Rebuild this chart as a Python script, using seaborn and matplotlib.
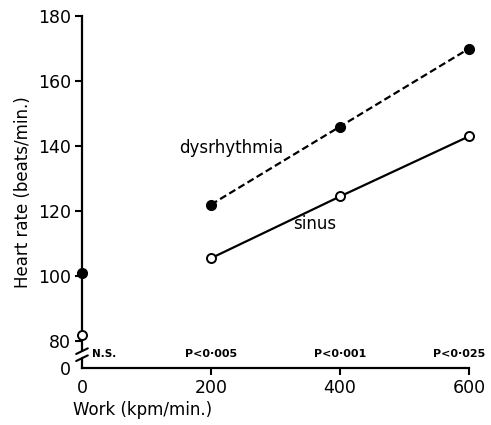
import matplotlib
matplotlib.use("Agg")
import matplotlib.pyplot as plt
import seaborn as sns
import pandas as pd

work = [0, 200, 400, 600]
dysrhythmia = [101, 122, 146, 170]
sinus = [82, 105.5, 124.5, 143]
p_labels = ["N.S.", "P<0·005", "P<0·001", "P<0·025"]
y_ticks = [80, 100, 120, 140, 160, 180]

sns.set_style("ticks")
plt.rcParams['font.family'] = ['DejaVu Sans']
plt.rcParams.update({"text.color": "black", "axes.labelcolor": "black",
                     "xtick.color": "black", "ytick.color": "black"})

fig = plt.figure(figsize=(4.91, 4.25), dpi=100)
ax = fig.add_axes([0.167, 0.134, 0.788, 0.828])

df = pd.DataFrame({"work": work * 2,
                   "hr": dysrhythmia + sinus,
                   "rhythm": ["dysrhythmia"] * 4 + ["sinus"] * 4})
line_df = df[df["work"] > 0]

sns.lineplot(data=line_df[line_df.rhythm == "dysrhythmia"], x="work", y="hr",
             color="black", linewidth=1.6, linestyle=(0, (3.2, 1.6)), ax=ax, legend=False)
sns.lineplot(data=line_df[line_df.rhythm == "sinus"], x="work", y="hr",
             color="black", linewidth=1.6, ax=ax, legend=False)

d = df[df.rhythm == "dysrhythmia"]
s = df[df.rhythm == "sinus"]
ax.plot(d["work"], d["hr"], "o", color="black", markersize=7, clip_on=False, zorder=5)
ax.plot(s["work"], s["hr"], "o", markerfacecolor="white", markeredgecolor="black",
        markeredgewidth=1.4, markersize=6.5, clip_on=False, zorder=5)

ybottom = 71.7
ax.set_xlim(0, 600)
ax.set_ylim(ybottom, 180)
ax.set_xticks(work)
ax.set_xticklabels([str(w) for w in work], fontsize=12.5)
ax.set_yticks([ybottom] + y_ticks)
ax.set_yticklabels(["0"] + [str(v) for v in y_ticks], fontsize=12.5)
ax.tick_params(axis="both", direction="out", length=5, width=1.5, color="black", pad=3)
ax.yaxis.get_major_ticks()[0].tick1line.set_visible(False)
ax.xaxis.get_major_ticks()[0].tick1line.set_visible(False)

for sp in ["top", "right"]:
    ax.spines[sp].set_visible(False)
for sp in ["left", "bottom"]:
    ax.spines[sp].set_linewidth(1.6)
    ax.spines[sp].set_color("black")

ax.set_xlabel("Work (kpm/min.)", fontsize=12)
ax.xaxis.label.set_horizontalalignment("left")
ax.xaxis.set_label_coords(-0.023, -0.095)
ax.set_ylabel("Heart rate (beats/min.)", fontsize=12, labelpad=4)

# axis break marks
ax.plot([-0.018, 0.018], [0.03, 0.05], transform=ax.transAxes, color="white",
        linewidth=4, clip_on=False, zorder=6)
for off in [0.028, 0.048]:
    ax.plot([-0.015, 0.015], [off - 0.008, off + 0.008], transform=ax.transAxes,
            color="black", linewidth=1.5, clip_on=False, zorder=7)

# P values
p_x = [16, 200, 400, 585]
p_ha = ["left", "center", "center", "center"]
for x, ha, lab in zip(p_x, p_ha, p_labels):
    ax.text(x, 74.5, lab, fontsize=7.5 if lab == "N.S." else 8,
            fontweight="bold", ha=ha, va="bottom")

ax.text(231, 139.5, "dysrhythmia", fontsize=12, ha="center", va="center")
ax.text(361, 116, "sinus", fontsize=12, ha="center", va="center")

fig.savefig("out.png", dpi=100)
